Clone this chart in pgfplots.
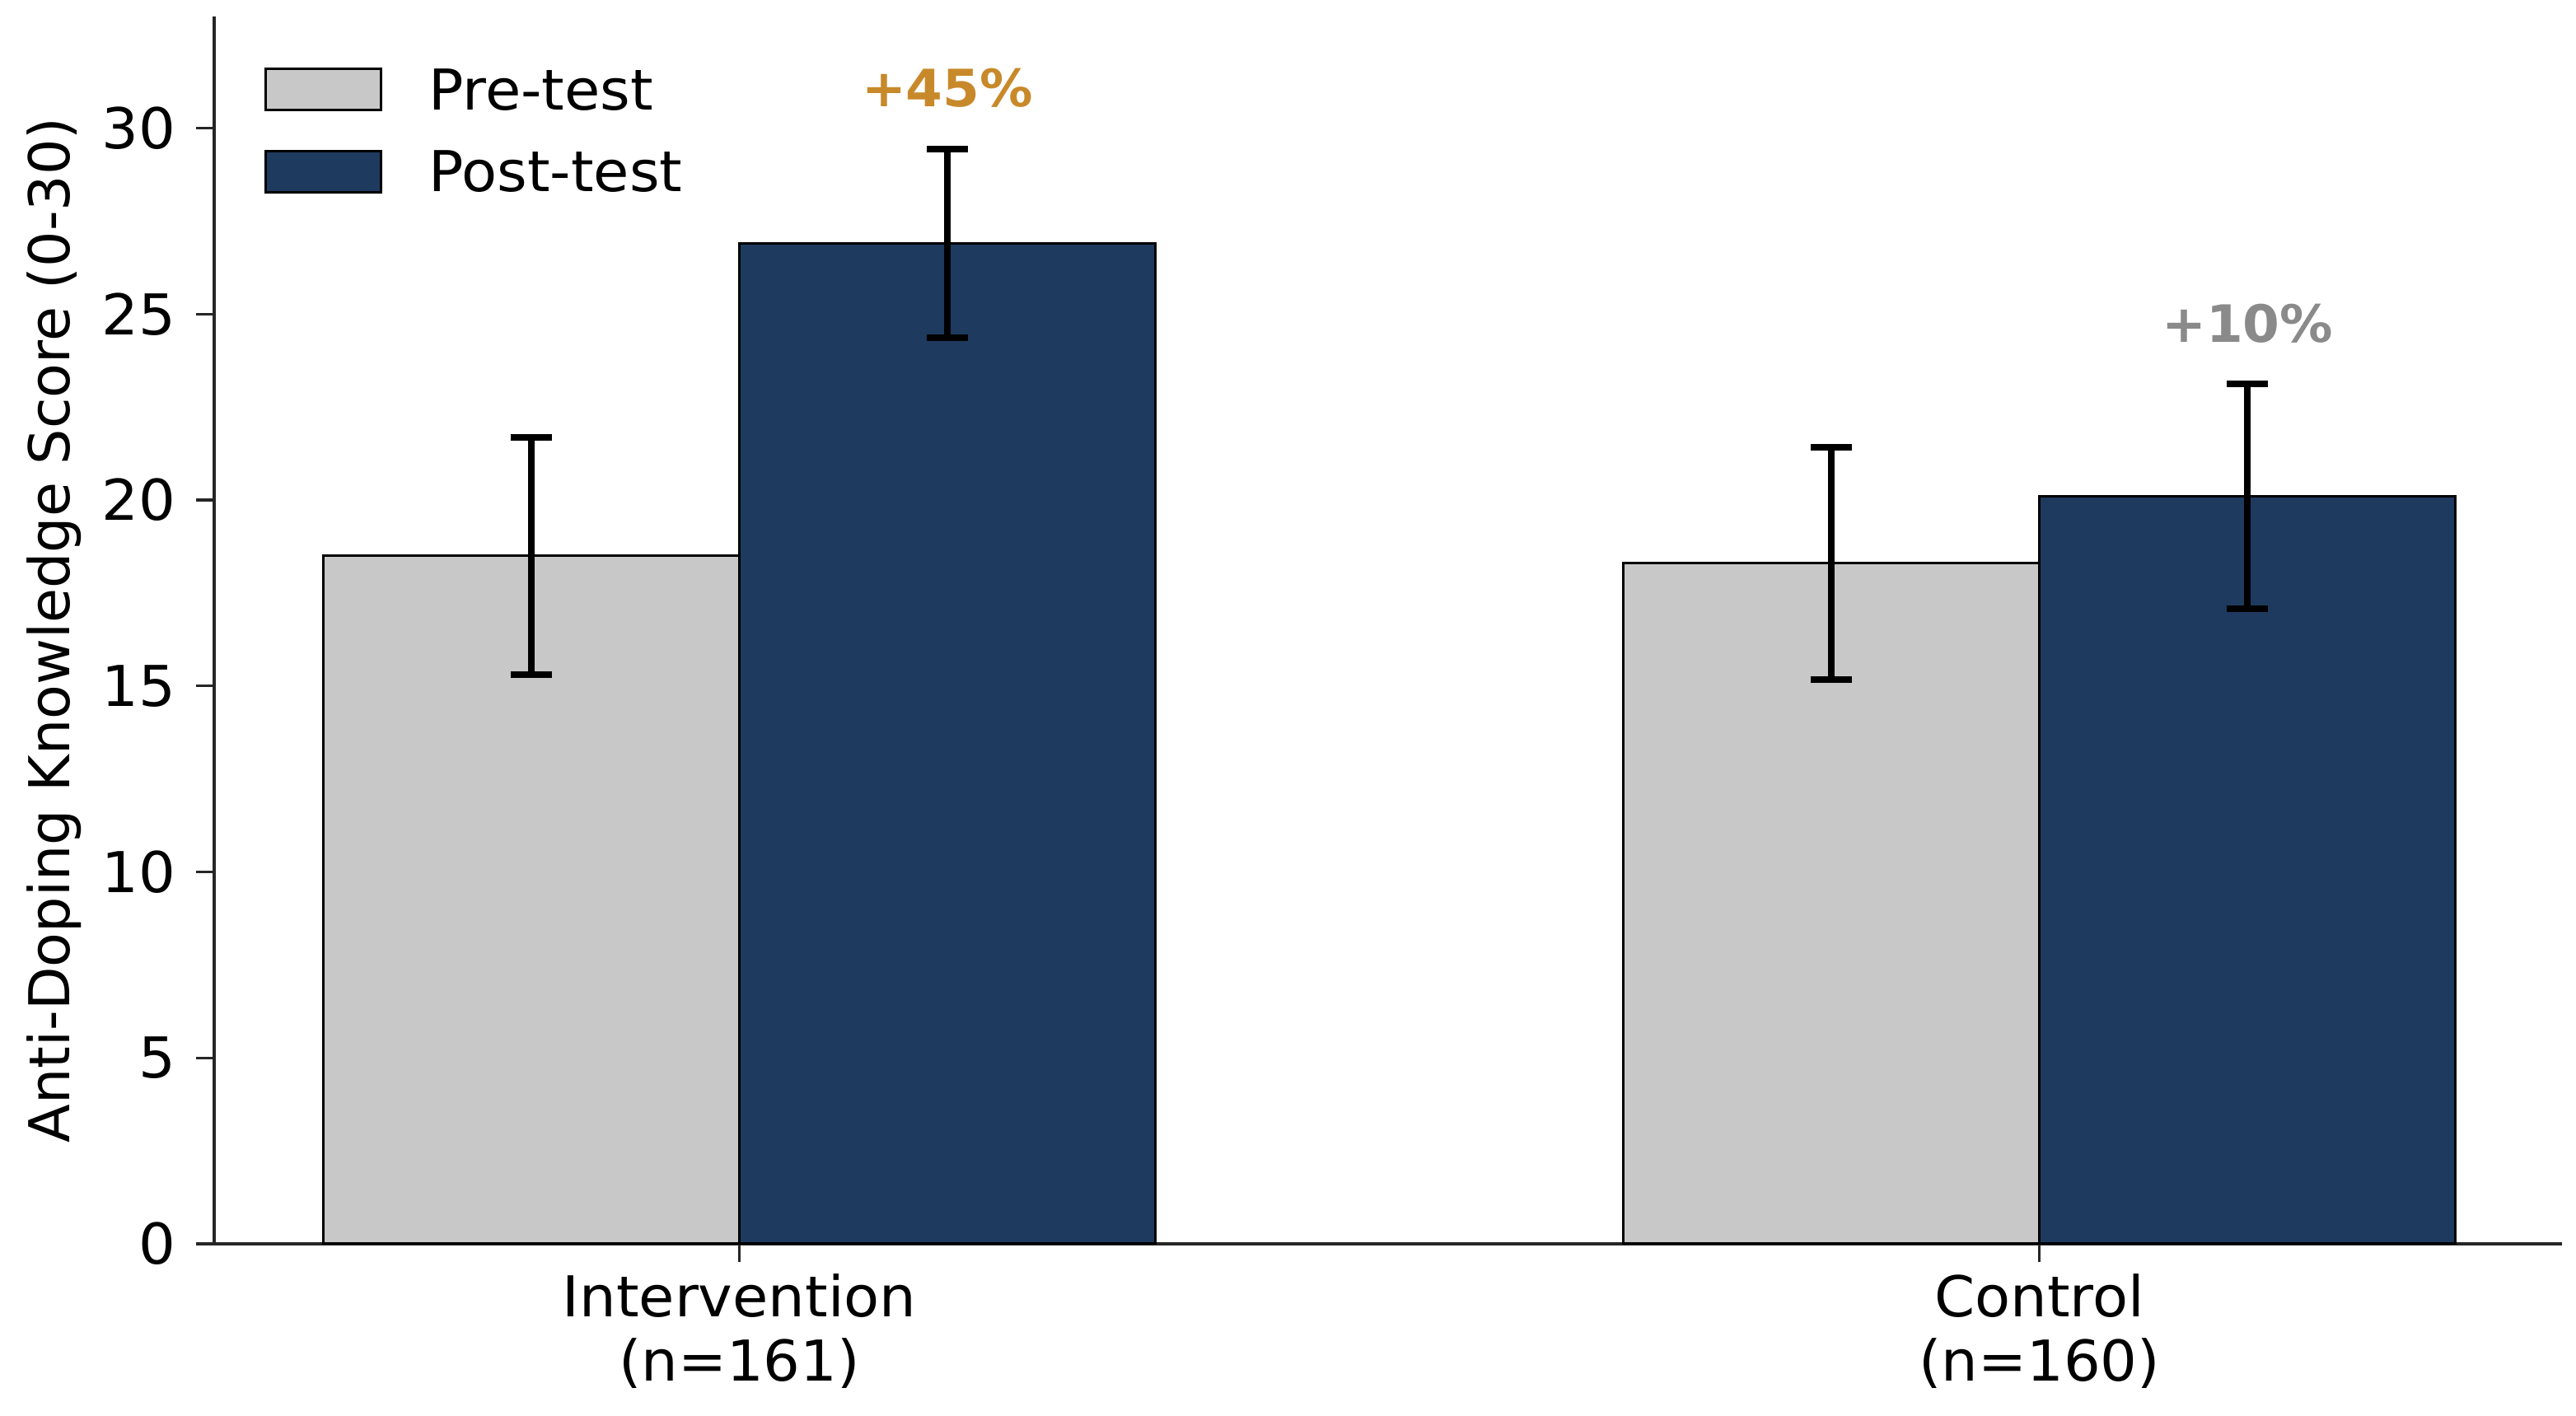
\documentclass[border=0pt]{standalone}
\usepackage{fontspec}
\setmainfont{DejaVu Sans}[FakeStretch=1.03]
\newfontfamily\plainfont{DejaVu Sans}
\usepackage{pgfplots}
\pgfplotsset{compat=1.18}
\usepackage{pgfplotstable}
\usetikzlibrary{calc}
\definecolor{preg}{HTML}{C8C8C8}
\definecolor{postn}{HTML}{1F3A5F}
\definecolor{orng}{HTML}{C8892A}
\definecolor{gtxt}{HTML}{8A8A8A}
\definecolor{spine}{HTML}{262626}
\pgfplotstableread{
x y e
-0.16 18.5 3.19
0.84 18.3 3.12
}\pretab
\pgfplotstableread{
x y e
0.16 26.9 2.53
1.16 20.1 3.03
}\posttab
\newcommand{\fs}{\fontsize{16.4}{18.7}\selectfont}
\begin{document}
\begin{tikzpicture}
\begin{axis}[
  width=684pt, height=357.6pt, scale only axis,
  xmin=-0.404, xmax=1.402, ymin=0, ymax=33,
  axis x line*=bottom, axis y line*=left,
  axis line style={line width=0.8pt, spine},
  every tick/.style={line width=0.8pt, spine},
  tick align=outside, major tick length=5.3pt,
  xtick={0,1}, ytick={0,5,...,30},
  xticklabels={{Intervention\\(n=161)},{Control\\(n=160)}},
  xticklabel style={align=center, font=\fs},
  yticklabel style={font=\fs, xshift=-2.4pt},
  /pgf/number format/assume math mode=true,
  ylabel={Anti-Doping Knowledge Score (0-30)},
  ylabel style={font=\plainfont\fs, yshift=-1pt},
  legend style={at={(rel axis cs:0,1)}, anchor=north west, xshift=14.4pt, yshift=-14.7pt,
    draw=none, fill=none, inner sep=0pt, row sep=7.6pt,
    nodes={inner sep=0pt, text height=12pt, text depth=4pt, font=\fs},
    /tikz/every odd column/.append style={column sep=13.5pt}},
  legend cell align=left,
]
\addplot[ybar, bar width=0.32, bar shift=0pt, fill=preg, draw=black, line width=0.8pt,
  legend image code/.code={\draw[fill=preg, draw=black, line width=0.8pt] (0pt,-4.1pt) rectangle (33.6pt,7.9pt);},
  error bars/.cd, y dir=both, y explicit,
  error bar style={line width=1.9pt, black},
  error mark options={line width=1.9pt, mark size=6pt, black, rotate=90}]
  table[x=x, y=y, y error=e] {\pretab};
\addlegendentry{Pre-test}
\addplot[ybar, bar width=0.32, bar shift=0pt, fill=postn, draw=black, line width=0.8pt,
  legend image code/.code={\draw[fill=postn, draw=black, line width=0.8pt] (0pt,-4.1pt) rectangle (33.6pt,7.9pt);},
  error bars/.cd, y dir=both, y explicit,
  error bar style={line width=1.9pt, black},
  error mark options={line width=1.9pt, mark size=6pt, black, rotate=90}]
  table[x=x, y=y, y error=e] {\posttab};
\addlegendentry{Post-test}
\node[anchor=base, font=\fontsize{15}{18}\selectfont\bfseries, text=orng, inner sep=0pt] at (axis cs:0.16,30.58) {+45\%};
\node[anchor=base, font=\fontsize{15}{18}\selectfont\bfseries, text=gtxt, inner sep=0pt] at (axis cs:1.16,24.24) {+10\%};
\coordinate (sw) at (rel axis cs:0,0);
\coordinate (ne) at (rel axis cs:1,1);
\end{axis}
\pgfresetboundingbox
\path[use as bounding box] ($(sw)+(-62.4pt,-49.92pt)$) rectangle ($(ne)+(4.08pt,4.8pt)$);
\end{tikzpicture}
\end{document}
